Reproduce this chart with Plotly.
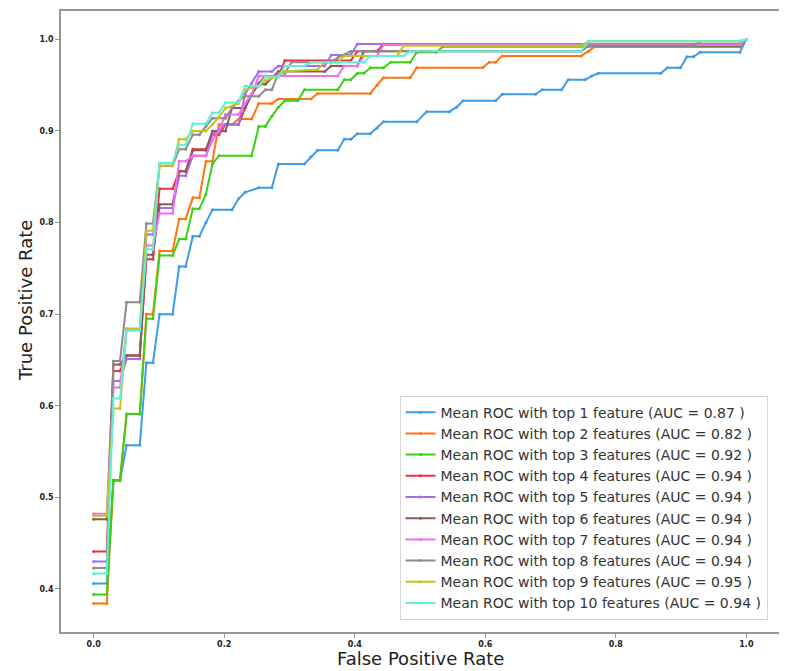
import plotly.graph_objects as go

# ---- data ----
fpr_top1 = [0, 0.0202, 0.0303, 0.0404, 0.0505, 0.0707, 0.0808, 0.0909, 0.101, 0.121, 0.131, 0.141, 0.152, 0.162, 0.172, 0.182, 0.212, 0.222, 0.232, 0.253, 0.273, 0.283, 0.323, 0.333, 0.343, 0.374, 0.384, 0.394, 0.404, 0.424, 0.434, 0.444, 0.495, 0.51, 0.545, 0.556, 0.566, 0.616, 0.626, 0.677, 0.687, 0.717, 0.727, 0.753, 0.763, 0.773, 0.869, 0.879, 0.899, 0.909, 0.919, 0.929, 0.99, 1.0]
tpr_top1 = [0.406, 0.406, 0.518, 0.518, 0.557, 0.557, 0.647, 0.647, 0.70, 0.70, 0.752, 0.752, 0.785, 0.785, 0.800, 0.814, 0.814, 0.826, 0.833, 0.838, 0.838, 0.864, 0.864, 0.872, 0.879, 0.879, 0.891, 0.891, 0.897, 0.897, 0.903, 0.910, 0.910, 0.921, 0.921, 0.926, 0.933, 0.933, 0.940, 0.940, 0.945, 0.945, 0.956, 0.956, 0.960, 0.963, 0.963, 0.969, 0.969, 0.981, 0.981, 0.986, 0.986, 1.0]

fpr_top2 = [0, 0.0202, 0.0303, 0.0404, 0.0505, 0.0707, 0.0808, 0.0909, 0.101, 0.121, 0.131, 0.141, 0.152, 0.162, 0.172, 0.182, 0.192, 0.212, 0.222, 0.242, 0.253, 0.273, 0.283, 0.333, 0.343, 0.424, 0.434, 0.444, 0.485, 0.495, 0.596, 0.606, 0.616, 0.626, 0.747, 0.758, 0.768, 0.99, 1.0]
tpr_top2 = [0.384, 0.384, 0.519, 0.519, 0.591, 0.591, 0.70, 0.70, 0.769, 0.769, 0.804, 0.804, 0.827, 0.827, 0.867, 0.867, 0.907, 0.907, 0.913, 0.913, 0.930, 0.930, 0.935, 0.935, 0.941, 0.941, 0.950, 0.958, 0.958, 0.969, 0.969, 0.975, 0.975, 0.982, 0.982, 0.987, 0.992, 0.992, 1.0]

fpr_top3 = [0, 0.0202, 0.0303, 0.0404, 0.0505, 0.0707, 0.0808, 0.0909, 0.101, 0.121, 0.131, 0.141, 0.152, 0.162, 0.172, 0.182, 0.192, 0.242, 0.253, 0.263, 0.273, 0.283, 0.293, 0.313, 0.323, 0.374, 0.384, 0.394, 0.404, 0.414, 0.424, 0.444, 0.455, 0.485, 0.495, 0.525, 0.535, 0.99, 1.0]
tpr_top3 = [0.394, 0.394, 0.519, 0.519, 0.591, 0.591, 0.695, 0.695, 0.764, 0.764, 0.782, 0.782, 0.815, 0.815, 0.831, 0.864, 0.873, 0.873, 0.905, 0.905, 0.916, 0.926, 0.933, 0.933, 0.945, 0.945, 0.956, 0.956, 0.963, 0.963, 0.969, 0.969, 0.975, 0.975, 0.986, 0.986, 0.992, 0.992, 1.0]

fpr_top4 = [0, 0.0202, 0.0303, 0.0404, 0.0505, 0.0707, 0.0808, 0.0909, 0.101, 0.121, 0.131, 0.141, 0.152, 0.172, 0.182, 0.192, 0.202, 0.222, 0.232, 0.242, 0.253, 0.263, 0.283, 0.293, 0.394, 0.404, 0.434, 0.444, 0.99, 1.0]
tpr_top4 = [0.441, 0.441, 0.638, 0.638, 0.655, 0.655, 0.760, 0.760, 0.837, 0.837, 0.856, 0.856, 0.880, 0.880, 0.896, 0.896, 0.907, 0.907, 0.925, 0.940, 0.952, 0.960, 0.960, 0.977, 0.977, 0.987, 0.987, 0.995, 0.995, 1.0]

fpr_top5 = [0, 0.0202, 0.0303, 0.0404, 0.0505, 0.0707, 0.0808, 0.0909, 0.101, 0.121, 0.131, 0.141, 0.152, 0.172, 0.182, 0.192, 0.202, 0.222, 0.232, 0.242, 0.253, 0.273, 0.283, 0.354, 0.364, 0.394, 0.404, 0.99, 1.0]
tpr_top5 = [0.430, 0.430, 0.627, 0.627, 0.651, 0.651, 0.787, 0.787, 0.816, 0.816, 0.851, 0.851, 0.873, 0.873, 0.896, 0.902, 0.907, 0.907, 0.940, 0.952, 0.965, 0.965, 0.971, 0.971, 0.983, 0.983, 0.995, 0.995, 1.0]

fpr_top6 = [0, 0.0202, 0.0303, 0.0404, 0.0505, 0.0707, 0.0808, 0.0909, 0.101, 0.121, 0.131, 0.141, 0.152, 0.172, 0.182, 0.202, 0.212, 0.232, 0.242, 0.253, 0.263, 0.283, 0.354, 0.364, 0.404, 0.414, 0.747, 0.758, 0.99, 1.0]
tpr_top6 = [0.476, 0.476, 0.645, 0.645, 0.655, 0.655, 0.765, 0.765, 0.820, 0.820, 0.856, 0.856, 0.879, 0.879, 0.900, 0.900, 0.925, 0.925, 0.940, 0.951, 0.951, 0.965, 0.965, 0.971, 0.971, 0.987, 0.987, 0.993, 0.993, 1.0]

fpr_top7 = [0, 0.0202, 0.0303, 0.0404, 0.0505, 0.0707, 0.0808, 0.0909, 0.101, 0.121, 0.131, 0.141, 0.152, 0.172, 0.182, 0.192, 0.202, 0.222, 0.232, 0.242, 0.253, 0.374, 0.384, 0.404, 0.414, 0.434, 0.444, 0.99, 1.0]
tpr_top7 = [0.482, 0.482, 0.620, 0.620, 0.684, 0.684, 0.775, 0.775, 0.810, 0.810, 0.867, 0.867, 0.873, 0.873, 0.890, 0.900, 0.918, 0.918, 0.930, 0.940, 0.960, 0.960, 0.971, 0.971, 0.982, 0.982, 0.994, 0.994, 1.0]

fpr_top8 = [0, 0.0202, 0.0303, 0.0404, 0.0505, 0.0707, 0.0808, 0.0909, 0.101, 0.121, 0.131, 0.141, 0.152, 0.162, 0.172, 0.182, 0.202, 0.212, 0.222, 0.232, 0.253, 0.263, 0.273, 0.283, 0.293, 0.303, 0.364, 0.374, 0.394, 0.747, 0.758, 0.919, 0.929, 0.99, 1.0]
tpr_top8 = [0.423, 0.423, 0.649, 0.649, 0.713, 0.713, 0.799, 0.799, 0.862, 0.862, 0.880, 0.880, 0.896, 0.896, 0.905, 0.914, 0.914, 0.925, 0.933, 0.938, 0.938, 0.945, 0.945, 0.963, 0.963, 0.975, 0.975, 0.980, 0.987, 0.987, 0.993, 0.993, 0.998, 0.998, 1.0]

fpr_top9 = [0, 0.0202, 0.0303, 0.0404, 0.0505, 0.0707, 0.0808, 0.0909, 0.101, 0.121, 0.131, 0.141, 0.152, 0.172, 0.182, 0.192, 0.202, 0.222, 0.232, 0.253, 0.263, 0.283, 0.293, 0.343, 0.354, 0.374, 0.384, 0.465, 0.475, 0.747, 0.758, 0.99, 1.0]
tpr_top9 = [0.480, 0.480, 0.597, 0.597, 0.684, 0.684, 0.791, 0.791, 0.862, 0.862, 0.891, 0.891, 0.900, 0.900, 0.907, 0.915, 0.925, 0.930, 0.945, 0.949, 0.955, 0.960, 0.965, 0.967, 0.975, 0.975, 0.982, 0.982, 0.993, 0.993, 0.998, 0.998, 1.0]

fpr_top10 = [0, 0.0202, 0.0303, 0.0404, 0.0505, 0.0707, 0.0808, 0.0909, 0.101, 0.121, 0.131, 0.141, 0.152, 0.172, 0.182, 0.192, 0.202, 0.222, 0.232, 0.253, 0.263, 0.283, 0.293, 0.323, 0.333, 0.414, 0.424, 0.475, 0.485, 0.747, 0.758, 0.99, 1.0]
tpr_top10 = [0.417, 0.417, 0.608, 0.608, 0.682, 0.682, 0.771, 0.771, 0.865, 0.865, 0.885, 0.885, 0.908, 0.908, 0.920, 0.920, 0.931, 0.931, 0.949, 0.949, 0.959, 0.959, 0.971, 0.971, 0.975, 0.975, 0.982, 0.982, 0.987, 0.987, 0.998, 0.998, 1.0]

series_names = [
    "Mean ROC with top 1 feature (AUC = 0.87 )",
    "Mean ROC with top 2 features (AUC = 0.82 )",
    "Mean ROC with top 3 features (AUC = 0.92 )",
    "Mean ROC with top 4 features (AUC = 0.94 )",
    "Mean ROC with top 5 features (AUC = 0.94 )",
    "Mean ROC with top 6 features (AUC = 0.94 )",
    "Mean ROC with top 7 features (AUC = 0.94 )",
    "Mean ROC with top 8 features (AUC = 0.94 )",
    "Mean ROC with top 9 features (AUC = 0.95 )",
    "Mean ROC with top 10 features (AUC = 0.94 )",
]
x_tick_vals = [0.0, 0.2, 0.4, 0.6, 0.8, 1.0]
y_tick_vals = [0.4, 0.5, 0.6, 0.7, 0.8, 0.9, 1.0]
x_title = "False Positive Rate"
y_title = "True Positive Rate"

# ---- styling ----
colors = ["#3d9be9", "#ff7514", "#3ccf12", "#e8343f", "#a46ee8",
          "#8c5a55", "#f06ef0", "#8c8c8c", "#c2c41a", "#5ff0d6"]
fprs = [fpr_top1, fpr_top2, fpr_top3, fpr_top4, fpr_top5,
        fpr_top6, fpr_top7, fpr_top8, fpr_top9, fpr_top10]
tprs = [tpr_top1, tpr_top2, tpr_top3, tpr_top4, tpr_top5,
        tpr_top6, tpr_top7, tpr_top8, tpr_top9, tpr_top10]

fig = go.Figure()
for name, fx, ty, c in zip(series_names, fprs, tprs, colors):
    fig.add_trace(go.Scatter(
        x=fx, y=ty, name=name, mode="lines+markers",
        line=dict(color=c, width=2),
        marker=dict(color=c, size=3),
    ))

# the page body adds an 8px margin, so the figure is sized/offset to compensate
axis_color = "#8f9b9b"
fig.update_layout(
    width=779, height=663,
    margin=dict(l=53, r=8, t=3, b=39),
    paper_bgcolor="white", plot_bgcolor="white",
    font=dict(family="DejaVu Sans", color="#222222"),
    legend=dict(
        x=0.984, y=0.02, xanchor="right", yanchor="bottom",
        bgcolor="rgba(255,255,255,0.85)", bordercolor="#d5d5d5", borderwidth=1,
        font=dict(family="DejaVu Sans", size=14, color="#333333"),
        tracegroupgap=0,
    ),
    showlegend=True,
    annotations=[
        dict(text=x_title, xref="paper", yref="paper", x=0.5, y=-0.043,
             xanchor="center", yanchor="middle", showarrow=False,
             font=dict(size=18, color="#222222")),
        dict(text=y_title, xref="paper", yref="paper", x=-0.0501, y=0.533,
             xanchor="center", yanchor="middle", showarrow=False, textangle=-90,
             font=dict(size=18, color="#222222")),
    ],
)
fig.update_xaxes(
    range=[-0.05, 1.05], tickvals=x_tick_vals, tickformat=".1f",
    showgrid=False, zeroline=False, automargin=False,
    showline=True, linecolor=axis_color, linewidth=1.5, mirror=True,
    ticks="outside", ticklen=4, tickcolor=axis_color,
    tickfont=dict(size=8, weight="bold", color="#222222"),
)
fig.update_yaxes(
    range=[0.353, 1.031], tickvals=y_tick_vals, tickformat=".1f",
    showgrid=False, zeroline=False, automargin=False,
    showline=True, linecolor=axis_color, linewidth=1.5, mirror=True,
    ticks="outside", ticklen=4, tickcolor=axis_color,
    tickfont=dict(size=8, weight="bold", color="#222222"),
)

fig.write_html("out.html")
